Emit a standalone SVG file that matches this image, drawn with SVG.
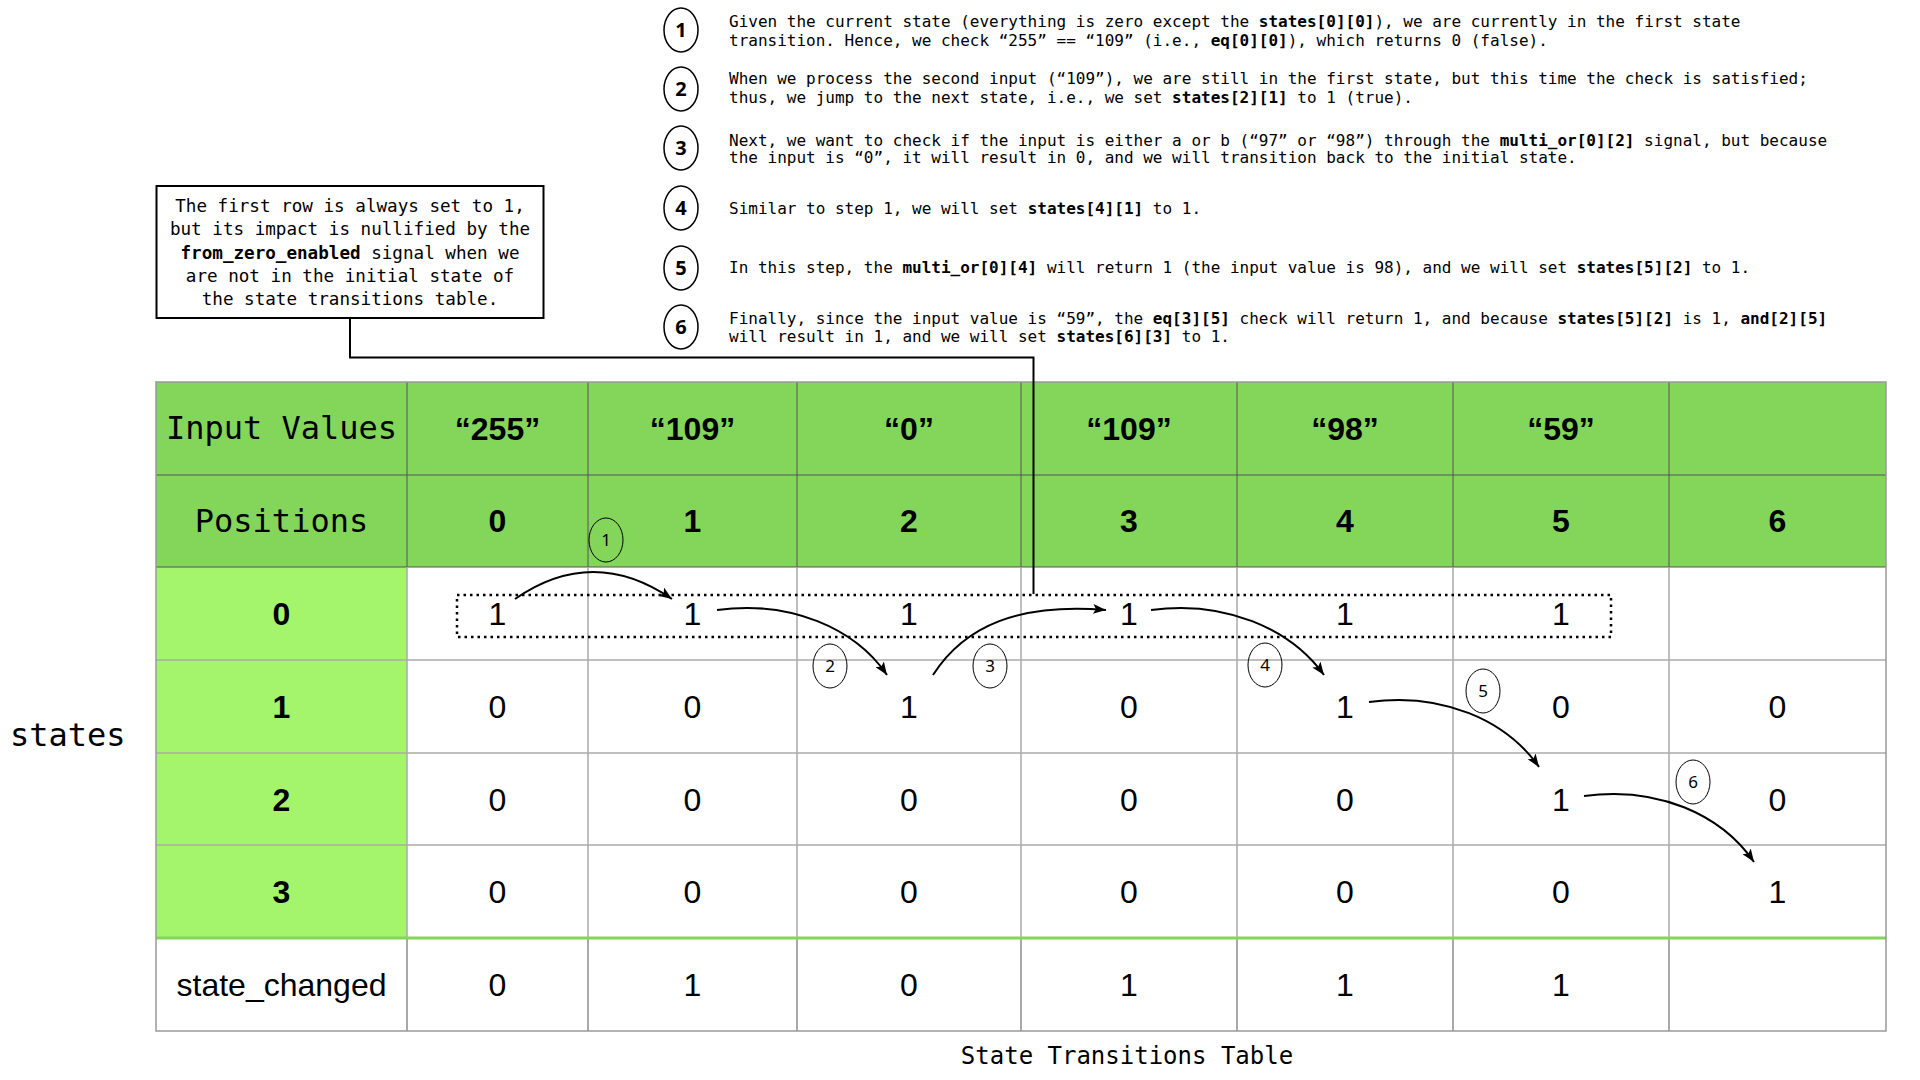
<svg xmlns="http://www.w3.org/2000/svg" width="1920" height="1080" viewBox="0 0 1920 1080">
<defs>
<style>
.mono{font-family:"DejaVu Sans Mono","Liberation Mono",monospace;fill:#000}
.step{font-size:16px}
.note{font-size:17.6px}
.sans{font-family:"Liberation Sans",Arial,sans-serif;fill:#000;text-anchor:middle}
.cell{font-size:32px}
.hd{font-size:32px;font-weight:bold}
.sc{fill:#fff;stroke:#000;stroke-width:1.5}
.scn{font-family:"Noto Sans","DejaVu Sans",sans-serif;font-size:20px;font-weight:bold;text-anchor:middle;fill:#000}
.lc{fill:none;stroke:#000;stroke-width:1}
.lcn{font-family:"Noto Sans","DejaVu Sans",sans-serif;font-size:17px;text-anchor:middle;fill:#000}
.arr{fill:none;stroke:#000;stroke-width:2;marker-end:url(#ah)}
.hl{stroke:#555;stroke-width:1}
.bl{stroke:#aaa;stroke-width:1.5}
</style>
<marker id="ah" markerUnits="userSpaceOnUse" markerWidth="14" markerHeight="10" refX="13" refY="5" orient="auto">
<path d="M0,0 L13,5 L0,10 L3,5 z" fill="#000"/>
</marker>
</defs>
<rect width="1920" height="1080" fill="#fff"/>

<!-- step annotations -->
<g id="step1">
<ellipse class="sc" cx="681" cy="30" rx="17" ry="22"/>
<text class="scn" x="681" y="37">1</text>
<text class="mono step" x="729" y="27">Given the current state (everything is zero except the <tspan font-weight="bold">states[0][0]</tspan>), we are currently in the first state</text>
<text class="mono step" x="729" y="46">transition. Hence, we check “255” == “109” (i.e., <tspan font-weight="bold">eq[0][0]</tspan>), which returns 0 (false).</text>
</g>
<g id="step2">
<ellipse class="sc" cx="681" cy="89" rx="17" ry="22"/>
<text class="scn" x="681" y="96">2</text>
<text class="mono step" x="729" y="84">When we process the second input (“109”), we are still in the first state, but this time the check is satisfied;</text>
<text class="mono step" x="729" y="103">thus, we jump to the next state, i.e., we set <tspan font-weight="bold">states[2][1]</tspan> to 1 (true).</text>
</g>
<g id="step3">
<ellipse class="sc" cx="681" cy="148" rx="17" ry="22"/>
<text class="scn" x="681" y="155">3</text>
<text class="mono step" x="729" y="146">Next, we want to check if the input is either a or b (“97” or “98”) through the <tspan font-weight="bold">multi_or[0][2]</tspan> signal, but because</text>
<text class="mono step" x="729" y="163">the input is “0”, it will result in 0, and we will transition back to the initial state.</text>
</g>
<g id="step4">
<ellipse class="sc" cx="681" cy="208" rx="17" ry="22"/>
<text class="scn" x="681" y="215">4</text>
<text class="mono step" x="729" y="214">Similar to step 1, we will set <tspan font-weight="bold">states[4][1]</tspan> to 1.</text>
</g>
<g id="step5">
<ellipse class="sc" cx="681" cy="268" rx="17" ry="22"/>
<text class="scn" x="681" y="275">5</text>
<text class="mono step" x="729" y="273">In this step, the <tspan font-weight="bold">multi_or[0][4]</tspan> will return 1 (the input value is 98), and we will set <tspan font-weight="bold">states[5][2]</tspan> to 1.</text>
</g>
<g id="step6">
<ellipse class="sc" cx="681" cy="327" rx="17" ry="22"/>
<text class="scn" x="681" y="334">6</text>
<text class="mono step" x="729" y="324">Finally, since the input value is “59”, the <tspan font-weight="bold">eq[3][5]</tspan> check will return 1, and because <tspan font-weight="bold">states[5][2]</tspan> is 1, <tspan font-weight="bold">and[2][5]</tspan></text>
<text class="mono step" x="729" y="342">will result in 1, and we will set <tspan font-weight="bold">states[6][3]</tspan> to 1.</text>
</g>

<!-- note -->
<g id="note">
<rect x="156.5" y="186" width="387" height="132" fill="#fff" stroke="#000" stroke-width="2"/>
<g class="mono note" text-anchor="middle">
<text x="350" y="212">The first row is always set to 1,</text>
<text x="350" y="235">but its impact is nullified by the</text>
<text x="350" y="259"><tspan font-weight="bold">from_zero_enabled</tspan> signal when we</text>
<text x="350" y="282">are not in the initial state of</text>
<text x="350" y="305">the state transitions table.</text>
</g>
</g>

<!-- table -->
<g id="table">
<rect x="156" y="382" width="1730" height="185" fill="#83D65A"/>
<rect x="156" y="567" width="251" height="371" fill="#A4F56C"/>
<rect x="407" y="567" width="1479" height="371" fill="#fff"/>
<rect x="156" y="938" width="1730" height="93" fill="#fff"/>
<!-- header lines -->
<g class="hl">
<line x1="156" y1="475" x2="1886" y2="475"/>
<line x1="156" y1="567" x2="1886" y2="567"/>
<line x1="407" y1="382" x2="407" y2="567"/>
<line x1="588" y1="382" x2="588" y2="567"/>
<line x1="797" y1="382" x2="797" y2="567"/>
<line x1="1021" y1="382" x2="1021" y2="567"/>
<line x1="1237" y1="382" x2="1237" y2="567"/>
<line x1="1453" y1="382" x2="1453" y2="567"/>
<line x1="1669" y1="382" x2="1669" y2="567"/>
</g>
<!-- body lines -->
<g class="bl">
<line x1="156" y1="660" x2="1886" y2="660"/>
<line x1="156" y1="753" x2="1886" y2="753"/>
<line x1="156" y1="845" x2="1886" y2="845"/>
<line x1="407" y1="567" x2="407" y2="938"/>
<line x1="588" y1="567" x2="588" y2="938"/>
<line x1="797" y1="567" x2="797" y2="938"/>
<line x1="1021" y1="567" x2="1021" y2="938"/>
<line x1="1237" y1="567" x2="1237" y2="938"/>
<line x1="1453" y1="567" x2="1453" y2="938"/>
<line x1="1669" y1="567" x2="1669" y2="938"/>
</g>
<g class="hl">
<line x1="407" y1="938" x2="407" y2="1031"/>
<line x1="588" y1="938" x2="588" y2="1031"/>
<line x1="797" y1="938" x2="797" y2="1031"/>
<line x1="1021" y1="938" x2="1021" y2="1031"/>
<line x1="1237" y1="938" x2="1237" y2="1031"/>
<line x1="1453" y1="938" x2="1453" y2="1031"/>
<line x1="1669" y1="938" x2="1669" y2="1031"/>
</g>
<line x1="156" y1="938" x2="1886" y2="938" stroke="#83D65A" stroke-width="3"/>
<rect x="156" y="382" width="1730" height="649" fill="none" stroke="#999" stroke-width="1.5"/>

<!-- header texts -->
<text class="mono" x="281.5" y="439" font-size="32" text-anchor="middle">Input Values</text>
<text class="mono" x="281.5" y="532" font-size="32" text-anchor="middle">Positions</text>
<g class="sans hd">
<text x="497.5" y="440">“255”</text>
<text x="692.5" y="440">“109”</text>
<text x="909" y="440">“0”</text>
<text x="1129" y="440">“109”</text>
<text x="1345" y="440">“98”</text>
<text x="1561" y="440">“59”</text>
<text x="497.5" y="532">0</text>
<text x="692.5" y="532">1</text>
<text x="909" y="532">2</text>
<text x="1129" y="532">3</text>
<text x="1345" y="532">4</text>
<text x="1561" y="532">5</text>
<text x="1777.5" y="532">6</text>
<text x="281.5" y="625">0</text>
<text x="281.5" y="718">1</text>
<text x="281.5" y="811">2</text>
<text x="281.5" y="903">3</text>
</g>
<g class="sans cell">
<text x="497.5" y="625">1</text><text x="692.5" y="625">1</text><text x="909" y="625">1</text><text x="1129" y="625">1</text><text x="1345" y="625">1</text><text x="1561" y="625">1</text>
<text x="497.5" y="718">0</text><text x="692.5" y="718">0</text><text x="909" y="718">1</text><text x="1129" y="718">0</text><text x="1345" y="718">1</text><text x="1561" y="718">0</text><text x="1777.5" y="718">0</text>
<text x="497.5" y="811">0</text><text x="692.5" y="811">0</text><text x="909" y="811">0</text><text x="1129" y="811">0</text><text x="1345" y="811">0</text><text x="1561" y="811">1</text><text x="1777.5" y="811">0</text>
<text x="497.5" y="903">0</text><text x="692.5" y="903">0</text><text x="909" y="903">0</text><text x="1129" y="903">0</text><text x="1345" y="903">0</text><text x="1561" y="903">0</text><text x="1777.5" y="903">1</text>
<text x="281.5" y="996">state_changed</text>
<text x="497.5" y="996">0</text><text x="692.5" y="996">1</text><text x="909" y="996">0</text><text x="1129" y="996">1</text><text x="1345" y="996">1</text><text x="1561" y="996">1</text>
</g>
</g>

<g id="states-label">
<text class="mono" x="10" y="746" font-size="32">states</text>
</g>
<g id="caption">
<text class="mono" x="1127" y="1064" font-size="24" text-anchor="middle">State Transitions Table</text>
</g>

<!-- highlight of first row -->
<g id="first-row-highlight">
<rect x="457" y="595" width="1154" height="42" fill="none" stroke="#000" stroke-width="2.5" stroke-dasharray="2.5 4"/>
</g>

<!-- connectors -->
<g id="connectors">
<polyline points="350,318 350,357.5 1033.5,357.5 1033.5,594" fill="none" stroke="#000" stroke-width="2"/>
<path class="arr" d="M515 599 Q593 545 672 599"/>
<path class="arr" d="M717 610 C790 600 855 628 887 675"/>
<path class="arr" d="M933 675 C965 625 1020 603 1106 610"/>
<path class="arr" d="M1151 610 C1224 600 1290 628 1324 675"/>
<path class="arr" d="M1369 702 C1442 692 1506 720 1539 767"/>
<path class="arr" d="M1584 796 C1657 786 1721 814 1754 862"/>
</g>

<!-- transition labels -->
<g id="t1"><ellipse class="lc" cx="606" cy="540" rx="17" ry="22"/><text class="lcn" x="606" y="546">1</text></g>
<g id="t2"><ellipse class="lc" cx="830" cy="666" rx="17" ry="22"/><text class="lcn" x="830" y="672">2</text></g>
<g id="t3"><ellipse class="lc" cx="990" cy="666" rx="17" ry="22"/><text class="lcn" x="990" y="672">3</text></g>
<g id="t4"><ellipse class="lc" cx="1265" cy="665" rx="17" ry="22"/><text class="lcn" x="1265" y="671">4</text></g>
<g id="t5"><ellipse class="lc" cx="1483" cy="691" rx="17" ry="22"/><text class="lcn" x="1483" y="697">5</text></g>
<g id="t6"><ellipse class="lc" cx="1693" cy="782" rx="17" ry="22"/><text class="lcn" x="1693" y="788">6</text></g>
</svg>
